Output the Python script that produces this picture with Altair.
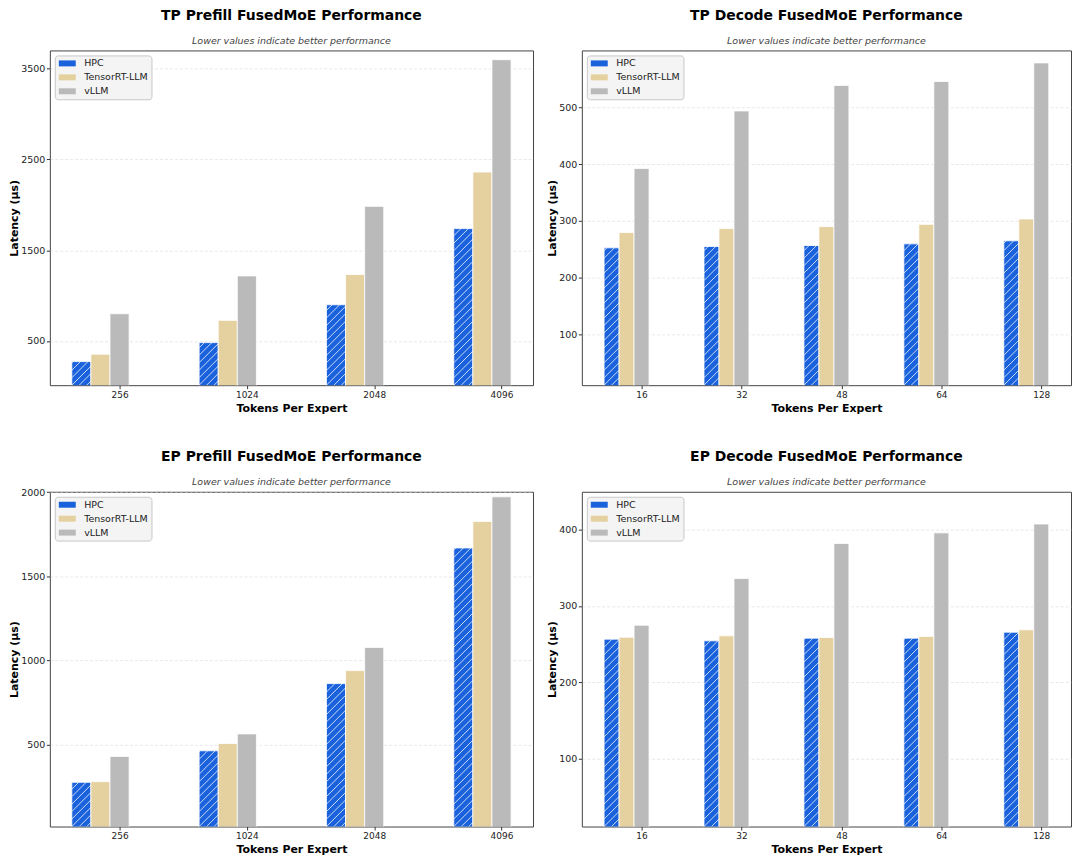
import json
import math
import altair as alt
import pandas as pd

series_names = ["HPC", "TensorRT-LLM", "vLLM"]
series_colors = ["#1a62dc", "#e5d09f", "#bababa"]

tp_prefill_tokens = ["256", "1024", "2048", "4096"]
tp_prefill_hpc = [273, 482, 899, 1738]
tp_prefill_trt = [354, 727, 1232, 2361]
tp_prefill_vllm = [800, 1217, 1983, 3599]
tp_prefill_yticks = [500, 1500, 2500, 3500]
tp_prefill_ydomain = [13, 3701]

tp_decode_tokens = ["16", "32", "48", "64", "128"]
tp_decode_hpc = [252.6, 255.0, 256.7, 259.6, 265.0]
tp_decode_trt = [279.5, 286.5, 290.0, 294.0, 303.5]
tp_decode_vllm = [392.4, 494.0, 539.0, 546.0, 578.7]
tp_decode_yticks = [100, 200, 300, 400, 500]
tp_decode_ydomain = [10.4, 600.7]

ep_prefill_tokens = ["256", "1024", "2048", "4096"]
ep_prefill_hpc = [275, 462.5, 862, 1668]
ep_prefill_trt = [279, 506, 939, 1826]
ep_prefill_vllm = [429, 563, 1077, 1972]
ep_prefill_yticks = [500, 1000, 1500, 2000]
ep_prefill_ydomain = [12.4, 2002]

ep_decode_tokens = ["16", "32", "48", "64", "128"]
ep_decode_hpc = [256.4, 254.2, 257.7, 257.7, 265.5]
ep_decode_trt = [259.0, 260.7, 258.5, 259.9, 268.6]
ep_decode_vllm = [274.7, 335.8, 381.9, 395.8, 407.4]
ep_decode_yticks = [100, 200, 300, 400]
ep_decode_ydomain = [10.6, 449.7]

SUBTITLE = "Lower values indicate better performance"
BAR_W = 0.15
HATCH_STEP = 7.5  # px
FONT = "DejaVu Sans"


def panel(title, tokens, hpc, trt, vllm, ydom, yticks, width, height,
          title_offset=5):
    n = len(tokens)
    rows = []
    for i, tok in enumerate(tokens):
        for j, (name, vals) in enumerate(zip(series_names, [hpc, trt, vllm])):
            c = i + j * BAR_W
            rows.append(dict(token=tok, series=name, x0=c - BAR_W / 2,
                             x1=c + BAR_W / 2, value=vals[i], base=0))
    df = pd.DataFrame(rows)

    lo_x = -BAR_W / 2
    hi_x = (n - 1) + 2 * BAR_W + BAR_W / 2
    span = hi_x - lo_x
    xdom = [lo_x - 0.05 * span, hi_x + 0.05 * span]
    tick_vals = [i + 2 * BAR_W for i in range(n)]
    label_expr = f"{json.dumps(tokens)}[round(datum.value - {2 * BAR_W})]"

    # hatch segments for HPC bars (45 degrees in pixel space)
    pxx = width / (xdom[1] - xdom[0])
    pxy = height / (ydom[1] - ydom[0])
    segs = []
    for i in range(n):
        xl = i - BAR_W / 2
        bw = BAR_W * pxx
        yt = (hpc[i] - ydom[0]) * pxy
        k0 = math.floor(-bw / HATCH_STEP) - 1
        k1 = math.ceil(yt / HATCH_STEP) + 1
        for k in range(k0, k1):
            c = k * HATCH_STEP
            lo = max(0.0, 0.0 - c)
            hi = min(bw, yt - c)
            if hi - lo > 0.5:
                segs.append(dict(hx=xl + lo / pxx, hx2=xl + hi / pxx,
                                 hy=ydom[0] + (c + lo) / pxy,
                                 hy2=ydom[0] + (c + hi) / pxy))
    hdf = pd.DataFrame(segs)

    xscale = alt.Scale(domain=xdom, nice=False, zero=False)
    yscale = alt.Scale(domain=ydom, nice=False, zero=False)

    xaxis = alt.Axis(values=tick_vals, labelExpr=label_expr, grid=False,
                     title="Tokens Per Expert", titleFontSize=11,
                     titleFontWeight="bold", titleColor="#000", titlePadding=3,
                     labelFontSize=9, labelColor="#222", labelFont=FONT,
                     titleFont=FONT, tickSize=3.5, tickColor="#333",
                     labelPadding=2, domain=False)
    yaxis = alt.Axis(values=yticks, grid=True, gridDash=[3, 2],
                     gridColor="#d5d5d5", gridOpacity=0.7, gridWidth=0.8,
                     title="Latency (μs)", titleFontSize=11,
                     titleFontWeight="bold", titleColor="#000", titlePadding=1,
                     labelFontSize=9.5, labelColor="#222", labelFont=FONT,
                     titleFont=FONT, tickSize=3.5, tickColor="#333",
                     labelPadding=1.5, domain=False, format="d")

    legend = alt.Legend(orient="top-left", offset=5, title=None,
                        fillColor="#f4f4f4", strokeColor="#c8c8c8",
                        cornerRadius=3, padding=3, rowPadding=4,
                        labelFontSize=9.5, labelFont=FONT, labelColor="#222",
                        symbolType="M-1.7,-0.6L1.7,-0.6L1.7,0.6L-1.7,0.6Z",
                        symbolSize=100, symbolStrokeWidth=0, labelOffset=12,
                        symbolOffset=4.5, symbolOpacity=1)

    bars = alt.Chart(df).mark_bar(clip=True, stroke="white",
                                  strokeWidth=0.8).encode(
        x=alt.X("x0:Q", scale=xscale, axis=xaxis),
        x2="x1",
        y=alt.Y("value:Q", scale=yscale, axis=yaxis),
        y2="base",
        color=alt.Color("series:N",
                        scale=alt.Scale(domain=series_names,
                                        range=series_colors),
                        legend=legend),
    )
    hatch = alt.Chart(hdf).mark_rule(clip=True, color="white",
                                     strokeWidth=0.9, opacity=0.85).encode(
        x=alt.X("hx:Q", scale=xscale),
        x2="hx2",
        y=alt.Y("hy:Q", scale=yscale),
        y2="hy2",
    )
    return alt.layer(bars, hatch).properties(
        width=width, height=height,
        title=alt.TitleParams(text=title, subtitle=SUBTITLE, fontSize=14,
                              fontWeight="bold", font=FONT, color="#000",
                              subtitleFont=FONT, subtitleFontSize=9.5,
                              subtitleFontStyle="italic",
                              subtitleColor="#444", anchor="middle",
                              offset=title_offset, subtitlePadding=13),
    )


p1 = panel("TP Prefill FusedMoE Performance", tp_prefill_tokens,
           tp_prefill_hpc, tp_prefill_trt, tp_prefill_vllm,
           tp_prefill_ydomain, tp_prefill_yticks, 485, 336)
p2 = panel("TP Decode FusedMoE Performance", tp_decode_tokens,
           tp_decode_hpc, tp_decode_trt, tp_decode_vllm,
           tp_decode_ydomain, tp_decode_yticks, 491, 336)
p3 = panel("EP Prefill FusedMoE Performance", ep_prefill_tokens,
           ep_prefill_hpc, ep_prefill_trt, ep_prefill_vllm,
           ep_prefill_ydomain, ep_prefill_yticks, 485, 336,
           title_offset=0.5)
p4 = panel("EP Decode FusedMoE Performance", ep_decode_tokens,
           ep_decode_hpc, ep_decode_trt, ep_decode_vllm,
           ep_decode_ydomain, ep_decode_yticks, 491, 336)

row1 = alt.hconcat(p1, p2, spacing=49, bounds="flush").resolve_scale(
    color="independent", x="independent", y="independent")
row2 = alt.hconcat(p3, p4, spacing=49, bounds="flush").resolve_scale(
    color="independent", x="independent", y="independent")

chart = alt.vconcat(row1, row2, spacing=35).resolve_scale(
    color="independent", x="independent", y="independent"
).properties(
    padding={"top": -1, "left": 0, "right": 0, "bottom": 0}
).configure(
    font=FONT,
    view=alt.ViewConfig(stroke="#444444", strokeWidth=1),
)

chart.save("out.html", embed_options={"renderer": "svg", "actions": False})
